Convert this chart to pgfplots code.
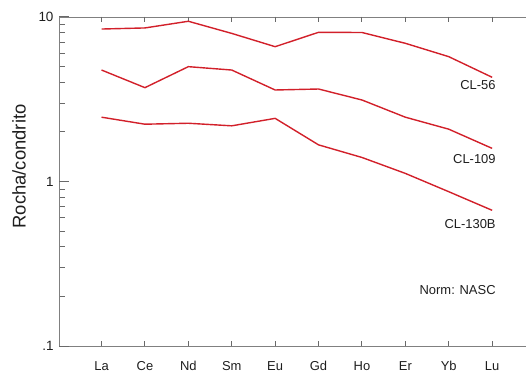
\documentclass[border=0pt]{standalone}
\usepackage{fontspec}
\setmainfont{Liberation Sans}
\usepackage{pgfplots}
\pgfplotsset{compat=1.18}
\definecolor{ln}{RGB}{210,32,42}
\definecolor{axc}{RGB}{128,128,128}
\definecolor{tkc}{RGB}{105,105,105}
\definecolor{tx}{RGB}{30,30,30}
\begin{document}
\begin{tikzpicture}
\begin{axis}[
  name=ax,
  scale only axis,
  width=467bp, height=329bp,
  xmin=-0.98, xmax=9.78,
  ymode=log, ymin=0.1, ymax=10,
  axis line style={axc, line width=0.9bp},
  tick align=inside,
  xtick={0,...,9},
  xticklabels={La,Ce,Nd,Sm,Eu,Gd,Ho,Er,Yb,Lu},
  ytick={0.1,1,10},
  yticklabels={.1,1,10},
  ytick pos=left,
  major tick length=5bp,
  minor tick length=6bp,
  every tick/.style={draw=tkc, line width=1bp},
  xticklabel style={font=\fontsize{13}{15}\selectfont, text=tx, yshift=-12bp},
  yticklabel style={font=\fontsize{13.5}{15}\selectfont, text=tx, xshift=-2bp},
  ylabel={Rocha/condrito},
  every axis y label/.style={at={(axis description cs:-0.0857,0.5456)}, rotate=90, anchor=center, font=\fontsize{18.5}{20}\selectfont, text=tx},
]
\pgfplotsinvokeforeach{0,1,2,3,4,5,6,7,8,9}{
  \draw[tkc, line width=1bp] (axis cs:#1,0.1) -- ++(0bp,5bp);
  \draw[tkc, line width=1bp] (axis cs:#1,10) -- ++(0bp,-5bp);
}
\pgfplotsinvokeforeach{0.1,1,10}{
  \draw[tkc, line width=1bp] (axis cs:-0.98,#1) -- ++(10bp,0bp);
}
\addplot[ln, line width=1.4bp] coordinates {
 (0,8.45) (1,8.58) (2,9.42) (3,7.95) (4,6.6) (5,8.07) (6,8.05) (7,6.92) (8,5.74) (9,4.3)};
\addplot[ln, line width=1.4bp] coordinates {
 (0,4.76) (1,3.72) (2,4.99) (3,4.76) (4,3.6) (5,3.65) (6,3.13) (7,2.46) (8,2.08) (9,1.59)};
\addplot[ln, line width=1.4bp] coordinates {
 (0,2.46) (1,2.23) (2,2.26) (3,2.18) (4,2.42) (5,1.67) (6,1.40) (7,1.12) (8,0.867) (9,0.668)};
\node[anchor=east, inner sep=0pt, font=\fontsize{13}{15}\selectfont, text=tx] at (axis cs:9.085,3.88) {CL-56};
\node[anchor=east, inner sep=0pt, font=\fontsize{13}{15}\selectfont, text=tx] at (axis cs:9.085,1.37) {CL-109};
\node[anchor=east, inner sep=0pt, font=\fontsize{13}{15}\selectfont, text=tx] at (axis cs:9.085,0.554) {CL-130B};
\node[anchor=east, inner sep=0pt, font=\fontsize{13}{15}\selectfont, text=tx] at (axis cs:9.085,0.22) {Norm: NASC};
\end{axis}
\draw[white, line width=2bp] ([yshift=1bp]ax.south east) -- ([yshift=-1bp]ax.north east);
\pgfresetboundingbox
\path ([shift={(-59bp,-28bp)}]ax.south west) rectangle ([shift={(0bp,17bp)}]ax.north east);
\end{tikzpicture}
\end{document}
